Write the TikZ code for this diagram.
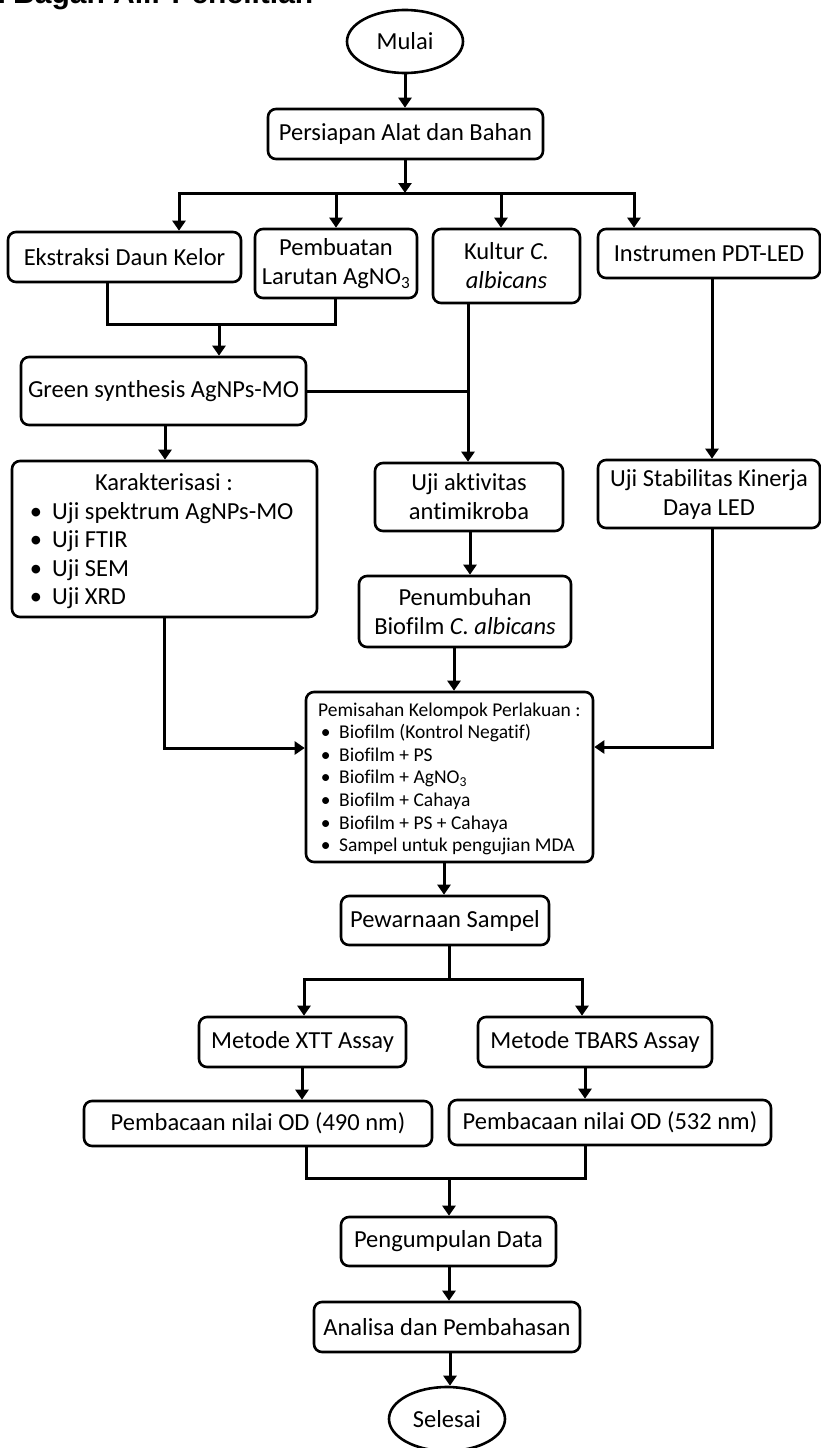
\documentclass[tikz,border=0pt]{standalone}
\usepackage{fontspec}
\setmainfont[Ligatures={NoCommon}]{Carlito}
\newfontfamily\headfont{Liberation Sans}
\usetikzlibrary{arrows.meta,shapes.geometric}
\newcommand\mainsz{\fontsize{24.5}{29}\selectfont}
\newcommand\smallsz{\fontsize{19.5}{22.6}\selectfont}
\begin{document}
\begin{tikzpicture}[x=1pt,y=-1pt,
 box/.style={draw,line width=2.6pt,rounded corners=8pt,inner sep=0pt,align=center,font=\mainsz},
 oval/.style={draw,ellipse,line width=2.6pt,inner sep=0pt,font=\mainsz},
 conn/.style={line width=3pt},
 arr/.style={conn,-{Triangle[width=13pt,length=10pt]}},
 lbl/.style={inner sep=0pt,anchor=base west},
]
\useasboundingbox (0,0) rectangle (821,1448);
\clip (0,0) rectangle (821,1448);
\fill[white] (0,0) rectangle (821,1448);

\node[anchor=base west,inner sep=0pt,font=\headfont\bfseries\fontsize{30}{36}\selectfont] (title) at (-12,4) {1 Bagan Alir Penelitian};

% nodes
\node[oval,minimum width=116pt,minimum height=63pt] (mulai) at (405,41.5) {Mulai};
\node[box,minimum width=275pt,minimum height=50pt] (persiapan) at (405.5,134) {Persiapan Alat dan Bahan};
\node[box,minimum width=233pt,minimum height=50pt] (ekstraksi) at (124.5,257) {Ekstraksi Daun Kelor};
\node[box,minimum width=162pt,minimum height=69pt] (pembuatan) at (336,263.5) {Pembuatan\\Larutan AgNO\textsubscript{3}};
\node[box,minimum width=147pt,minimum height=74pt] (kultur) at (506.5,266) {Kultur \textit{C.}\\\textit{albicans}};
\node[box,minimum width=222pt,minimum height=49pt] (instrumen) at (709,253.5) {Instrumen PDT-LED};
\node[box,minimum width=285pt,minimum height=68pt] (green) at (163.5,391) {Green synthesis AgNPs-MO};
\node[box,minimum width=305pt,minimum height=156pt] (karakter) at (164.5,539) {};
\node[box,minimum width=188pt,minimum height=68pt] (ujiakt) at (469,497) {Uji aktivitas\\antimikroba};
\node[box,minimum width=222pt,minimum height=68pt] (ujistab) at (709,494) {Uji Stabilitas Kinerja\\Daya LED};
\node[box,minimum width=212pt,minimum height=71pt] (penumbuhan) at (465,611.5) {Penumbuhan\\Biofilm \textit{C. albicans}};
\node[box,minimum width=287pt,minimum height=170pt] (pemisahan) at (449.5,777) {};
\node[box,minimum width=208pt,minimum height=49pt] (pewarnaan) at (445,920.5) {Pewarnaan Sampel};
\node[box,minimum width=207pt,minimum height=50pt] (xtt) at (302.5,1042) {Metode XTT Assay};
\node[box,minimum width=234pt,minimum height=50pt] (tbars) at (595,1042) {Metode TBARS Assay};
\node[box,minimum width=348pt,minimum height=45pt] (od490) at (258,1123.5) {Pembacaan nilai OD (490 nm)};
\node[box,minimum width=322pt,minimum height=45pt] (od532) at (610,1122.5) {Pembacaan nilai OD (532 nm)};
\node[box,minimum width=215pt,minimum height=49pt] (pengumpulan) at (448.5,1241.5) {Pengumpulan Data};
\node[box,minimum width=266pt,minimum height=50pt] (analisa) at (447,1327) {Analisa dan Pembahasan};
\node[oval,minimum width=116pt,minimum height=64pt] (selesai) at (447,1419) {Selesai};

% list texts
\node[anchor=base,inner sep=0pt,font=\mainsz] (kt) at (164,490) {Karakterisasi :};
\node[lbl,font=\mainsz] (k1) at (52,519) {\llap{\textbullet\hspace{10pt}}Uji spektrum AgNPs-MO};
\node[lbl,font=\mainsz] (k2) at (52,547.5) {\llap{\textbullet\hspace{10pt}}Uji FTIR};
\node[lbl,font=\mainsz] (k3) at (52,576) {\llap{\textbullet\hspace{10pt}}Uji SEM};
\node[lbl,font=\mainsz] (k4) at (52,604.5) {\llap{\textbullet\hspace{10pt}}Uji XRD};

\node[lbl,font=\smallsz] (pt) at (318,716) {Pemisahan Kelompok Perlakuan :};
\node[lbl,font=\smallsz] (p1) at (339,738.6) {\llap{\textbullet\hspace{8.5pt}}Biofilm (Kontrol Negatif)};
\node[lbl,font=\smallsz] (p2) at (339,761.2) {\llap{\textbullet\hspace{8.5pt}}Biofilm + PS};
\node[lbl,font=\smallsz] (p3) at (339,783.8) {\llap{\textbullet\hspace{8.5pt}}Biofilm + AgNO\textsubscript{3}};
\node[lbl,font=\smallsz] (p4) at (339,806.4) {\llap{\textbullet\hspace{8.5pt}}Biofilm + Cahaya};
\node[lbl,font=\smallsz] (p5) at (339,829) {\llap{\textbullet\hspace{8.5pt}}Biofilm + PS + Cahaya};
\node[lbl,font=\smallsz] (p6) at (339,851.6) {\llap{\textbullet\hspace{8.5pt}}Sampel untuk pengujian MDA};

% coordinates
\coordinate (busc) at (405,193);
\coordinate (b1) at (179,193);
\coordinate (b2) at (336,193);
\coordinate (b3) at (501,193);
\coordinate (b4) at (634,193);
\coordinate (j1) at (107,324);
\coordinate (j2) at (335,324);
\coordinate (j3) at (219,324);
\coordinate (kx) at (468,392);
\coordinate (gx) at (165,0);
\coordinate (ix) at (712,747);
\coordinate (ax) at (470,0);
\coordinate (nx) at (454,0);
\coordinate (lx) at (164,748);
\coordinate (sx) at (444,0);
\coordinate (wc) at (449,979);
\coordinate (w1) at (304,979);
\coordinate (w2) at (582,979);
\coordinate (x1) at (302,0);
\coordinate (x2) at (585,0);
\coordinate (m1) at (306,1178);
\coordinate (m2) at (585,1178);
\coordinate (mc) at (449,1178);
\coordinate (ex) at (450,0);

% connectors
\draw[arr] (mulai.south) -- (mulai.south |- persiapan.north);
\draw[arr] (persiapan.south -| busc) -- (busc);
\draw[conn,line cap=rect] (b1) -- (b4);
\draw[arr] (b1) -- (b1 |- ekstraksi.north);
\draw[arr] (b2) -- (b2 |- pembuatan.north);
\draw[arr] (b3) -- (b3 |- kultur.north);
\draw[arr] (b4) -- (b4 |- instrumen.north);
\draw[conn] (j1 |- ekstraksi.south) -- (j1) -- (j2) -- (j2 |- pembuatan.south);
\draw[arr] (j3) -- (j3 |- green.north);
\draw[conn] (green.east) -- (green.east -| kx);
\draw[arr] (kx |- kultur.south) -- (kx |- ujiakt.north);
\draw[arr] (gx |- green.south) -- (gx |- karakter.north);
\draw[arr] (ix |- instrumen.south) -- (ix |- ujistab.north);
\draw[arr] (ax |- ujiakt.south) -- (ax |- penumbuhan.north);
\draw[arr] (nx |- penumbuhan.south) -- (nx |- pemisahan.north);
\draw[arr] (lx |- karakter.south) -- (lx) -- (lx -| pemisahan.west);
\draw[arr] (ix |- ujistab.south) -- (ix) -- (ix -| pemisahan.east);
\draw[arr] (sx |- pemisahan.south) -- (sx |- pewarnaan.north);
\draw[conn] (wc |- pewarnaan.south) -- (wc);
\draw[arr] (wc) -- (w1) -- (w1 |- xtt.north);
\draw[arr] (wc) -- (w2) -- (w2 |- tbars.north);
\draw[arr] (x1 |- xtt.south) -- (x1 |- od490.north);
\draw[arr] (x2 |- tbars.south) -- (x2 |- od532.north);
\draw[conn] (m1 |- od490.south) -- (m1) -- (m2) -- (m2 |- od532.south);
\draw[arr] (mc) -- (mc |- pengumpulan.north);
\draw[arr] (pengumpulan.south -| mc) -- (mc |- analisa.north);
\draw[arr] (ex |- analisa.south) -- (ex |- selesai.north);
\end{tikzpicture}
\end{document}
